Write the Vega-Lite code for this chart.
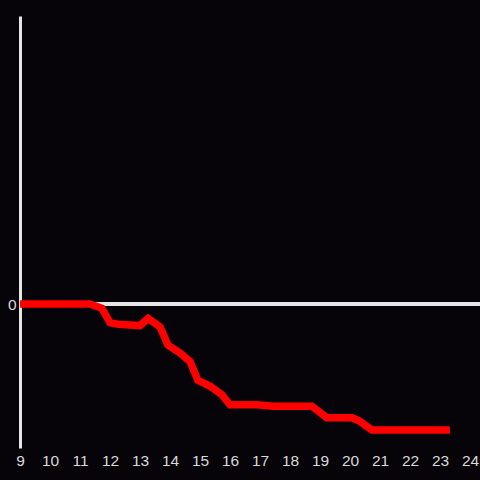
{
  "$schema": "https://vega.github.io/schema/vega-lite/v6.json",
  "width": 460,
  "height": 432,
  "autosize": {"type": "none"},
  "padding": {"left": 20, "top": 16, "right": 0, "bottom": 32},
  "background": "#060408",
  "config": {
    "view": {"stroke": null},
    "font": "Liberation Sans"
  },
  "data": {
    "values": [
      {"t": 9.0, "v": 0.0},
      {"t": 11.33, "v": 0.0},
      {"t": 11.73, "v": -0.03},
      {"t": 12.0, "v": -0.13},
      {"t": 12.27, "v": -0.14},
      {"t": 13.0, "v": -0.15},
      {"t": 13.27, "v": -0.1},
      {"t": 13.67, "v": -0.16},
      {"t": 13.93, "v": -0.285},
      {"t": 14.33, "v": -0.34},
      {"t": 14.67, "v": -0.4},
      {"t": 14.93, "v": -0.53},
      {"t": 15.33, "v": -0.57},
      {"t": 15.73, "v": -0.63},
      {"t": 16.0, "v": -0.7},
      {"t": 16.9, "v": -0.7},
      {"t": 17.43, "v": -0.71},
      {"t": 18.73, "v": -0.71},
      {"t": 19.23, "v": -0.79},
      {"t": 20.07, "v": -0.79},
      {"t": 20.33, "v": -0.815},
      {"t": 20.73, "v": -0.875},
      {"t": 23.33, "v": -0.875}
    ]
  },
  "layer": [
    {
      "mark": {"type": "rule", "color": "#e6e6e6", "strokeWidth": 2.5},
      "encoding": {"y": {"datum": 0, "type": "quantitative"}}
    },
    {
      "mark": {"type": "line", "color": "#ff0000", "strokeWidth": 7.5, "clip": true},
      "encoding": {
        "x": {
          "field": "t",
          "type": "quantitative",
          "scale": {"domain": [9, 24.3333], "nice": false, "zero": false},
          "axis": {
            "title": null,
            "values": [9,10,11,12,13,14,15,16,17,18,19,20,21,22,23,24],
            "format": "d",
            "domain": false,
            "ticks": false,
            "grid": false,
            "labelColor": "#d9d9d9",
            "labelFontSize": 15.5,
            "labelPadding": 5,
            "labelFlush": false,
            "labelOverlap": false,
            "labelFont": "Liberation Sans"
          }
        },
        "y": {
          "field": "v",
          "type": "quantitative",
          "scale": {"domain": [-1, 2], "nice": false, "zero": false},
          "axis": {
            "title": null,
            "values": [0],
            "format": "d",
            "domainColor": "#e6e6e6",
            "domainWidth": 3,
            "ticks": false,
            "grid": false,
            "labelColor": "#d9d9d9",
            "labelFontSize": 15.5,
            "labelPadding": 4,
            "labelFont": "Liberation Sans"
          }
        }
      }
    }
  ]
}
